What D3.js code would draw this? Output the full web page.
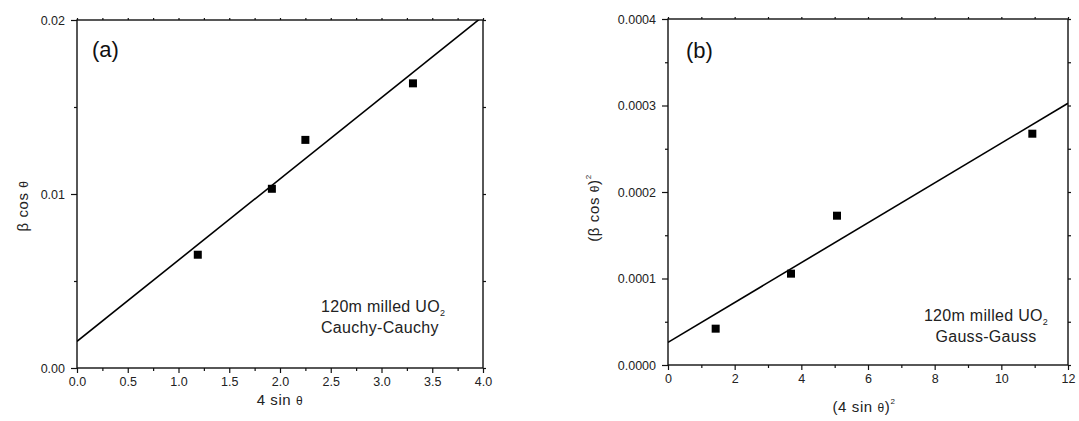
<!DOCTYPE html>
<html>
<head>
<meta charset="utf-8">
<script src="https://cdn.jsdelivr.net/npm/d3@7"></script>
<style>
  html, body { margin: 0; padding: 0; background: #fff; }
  svg { display: block; font-family: "Liberation Sans", Arial, sans-serif; }
  .axis path, .axis line { stroke: #111; }
  .axis text { fill: #222; font-size: 12.5px; font-family: "Liberation Sans", Arial, sans-serif; }
</style>
</head>
<body>
<svg id="chart" width="1079" height="421"></svg>
<script>
// Williamson–Hall style plots for 120 min milled UO2

// (a) Cauchy-Cauchy: beta cos(theta) vs 4 sin(theta)
const xA = [1.19, 1.92, 2.25, 3.31];
const yA = [0.00651, 0.01030, 0.01311, 0.01636];
const fitA = [0.00153, 0.00467];          // intercept, slope
const xTicksA = [0, 0.5, 1, 1.5, 2, 2.5, 3, 3.5, 4];
const yTicksA = [0, 0.01, 0.02];

// (b) Gauss-Gauss: (beta cos(theta))^2 vs (4 sin(theta))^2
const xB = [1.43, 3.69, 5.07, 10.93];
const yB = [0.0000420, 0.0001056, 0.0001726, 0.0002674];
const fitB = [0.0000262, 0.00002303];     // intercept, slope
const xTicksB = [0, 2, 4, 6, 8, 10, 12];
const yTicksB = [0, 0.0001, 0.0002, 0.0003, 0.0004];

const svg = d3.select("#chart");
svg.append("rect").attr("width", 1079).attr("height", 421).attr("fill", "#fff");

function panel(cfg) {
  const x = d3.scaleLinear().domain(cfg.xDomain).range([cfg.left, cfg.right]);
  const y = d3.scaleLinear().domain(cfg.yDomain).range([cfg.bottom, cfg.top]);
  const g = svg.append("g");

  const minorX = d3.range(cfg.xDomain[0], cfg.xDomain[1] + 1e-9, cfg.xMinor)
    .filter(v => !cfg.xTicks.some(t => Math.abs(t - v) < 1e-9));
  const minorY = d3.range(cfg.yDomain[0], cfg.yDomain[1] + 1e-12, cfg.yMinor)
    .filter(v => !cfg.yTicks.some(t => Math.abs(t - v) < 1e-12));

  // minor ticks on all four sides
  g.append("g").attr("class", "axis").attr("transform", `translate(0,${cfg.bottom})`)
    .call(d3.axisBottom(x).tickValues(minorX).tickSize(3).tickFormat(""))
    .call(a => a.select(".domain").remove());
  g.append("g").attr("class", "axis").attr("transform", `translate(${cfg.left},0)`)
    .call(d3.axisLeft(y).tickValues(minorY).tickSize(3).tickFormat(""))
    .call(a => a.select(".domain").remove());
  g.append("g").attr("class", "axis").attr("transform", `translate(0,${cfg.top})`)
    .call(d3.axisTop(x).tickValues(minorX.concat(cfg.xTicks)).tickSize(2).tickFormat(""))
    .call(a => a.select(".domain").remove());
  g.append("g").attr("class", "axis").attr("transform", `translate(${cfg.right},0)`)
    .call(d3.axisRight(y).tickValues(minorY.concat(cfg.yTicks)).tickSize(3).tickFormat(""))
    .call(a => a.select(".domain").remove());

  // major ticks with labels
  g.append("g").attr("class", "axis").attr("transform", `translate(0,${cfg.bottom})`)
    .call(d3.axisBottom(x).tickValues(cfg.xTicks).tickSize(5).tickPadding(4).tickFormat(cfg.xFormat))
    .call(a => a.select(".domain").remove());
  g.append("g").attr("class", "axis").attr("transform", `translate(${cfg.left},0)`)
    .call(d3.axisLeft(y).tickValues(cfg.yTicks).tickSize(6).tickPadding(6).tickFormat(cfg.yFormat))
    .call(a => a.select(".domain").remove());
  g.selectAll(".axis line").attr("stroke", "#111").attr("stroke-width", 1.2);

  // frame
  g.append("rect")
    .attr("x", cfg.left).attr("y", cfg.top)
    .attr("width", cfg.right - cfg.left).attr("height", cfg.bottom - cfg.top)
    .attr("fill", "none").attr("stroke", "#111").attr("stroke-width", 1.4);

  // linear fit, clipped to the plot frame
  const clipId = "clip-" + cfg.name;
  svg.append("clipPath").attr("id", clipId).append("rect")
    .attr("x", cfg.left).attr("y", cfg.top)
    .attr("width", cfg.right - cfg.left).attr("height", cfg.bottom - cfg.top);
  const fx = cfg.xDomain;
  const fitPts = fx.map(v => [v, cfg.fit[0] + cfg.fit[1] * v]);
  g.append("path")
    .attr("clip-path", `url(#${clipId})`)
    .attr("d", d3.line().x(d => x(d[0])).y(d => y(d[1]))(fitPts))
    .attr("fill", "none").attr("stroke", "#000").attr("stroke-width", 1.6);

  // data points (square markers)
  const s = 8;
  g.selectAll("rect.pt").data(cfg.xs.map((v, i) => [v, cfg.ys[i]])).join("rect")
    .attr("class", "pt")
    .attr("x", d => x(d[0]) - s / 2).attr("y", d => y(d[1]) - s / 2)
    .attr("width", s).attr("height", s).attr("fill", "#000");

  // panel letter
  g.append("text").attr("x", cfg.letterPos[0]).attr("y", cfg.letterPos[1])
    .attr("font-size", 22).attr("fill", "#111").text(cfg.letter);

  return { g, x, y };
}

const A = panel({
  name: "a", left: 77, right: 483, top: 20, bottom: 368,
  xDomain: [0, 4], yDomain: [0, 0.02], xMinor: 0.25, yMinor: 0.005,
  xTicks: xTicksA, yTicks: yTicksA,
  xFormat: d3.format(".1f"), yFormat: d3.format(".2f"),
  xs: xA, ys: yA, fit: fitA, letter: "(a)", letterPos: [92, 57]
});

const B = panel({
  name: "b", left: 668, right: 1068, top: 19, bottom: 365,
  xDomain: [0, 12], yDomain: [0, 0.0004], xMinor: 1, yMinor: 0.00005,
  xTicks: xTicksB, yTicks: yTicksB,
  xFormat: d3.format("d"), yFormat: d3.format(".4f"),
  xs: xB, ys: yB, fit: fitB, letter: "(b)", letterPos: [686, 58]
});

// axis titles
const tcol = "#222";
// (a) x
const xtA = svg.append("text").attr("x", 280).attr("y", 405).attr("text-anchor", "middle")
  .attr("font-size", 15).attr("letter-spacing", 0.6).attr("fill", tcol);
xtA.append("tspan").text("4 sin ");
xtA.append("tspan").attr("font-size", 12).text("θ");
// (a) y
const ytA = svg.append("text").attr("transform", "translate(28,206) rotate(-90)")
  .attr("text-anchor", "middle").attr("font-size", 15).attr("letter-spacing", 0.6).attr("fill", tcol);
ytA.append("tspan").text("β cos ");
ytA.append("tspan").attr("font-size", 12).text("θ");
// (b) x
const xtB = svg.append("text").attr("x", 864).attr("y", 412).attr("text-anchor", "middle")
  .attr("font-size", 15).attr("letter-spacing", 0.6).attr("fill", tcol);
xtB.append("tspan").text("(4 sin ");
xtB.append("tspan").attr("font-size", 12).text("θ");
xtB.append("tspan").text(")");
xtB.append("tspan").attr("font-size", 8).attr("dy", -8).text("2");
// (b) y
const ytB = svg.append("text").attr("transform", "translate(599,208) rotate(-90)")
  .attr("text-anchor", "middle").attr("font-size", 15).attr("letter-spacing", 0.6).attr("fill", tcol);
ytB.append("tspan").text("(β cos ");
ytB.append("tspan").attr("font-size", 12).text("θ");
ytB.append("tspan").text(")");
ytB.append("tspan").attr("font-size", 8).attr("dy", -8).text("2");

// annotations
function note(xp, y1, y2, anchor, second) {
  const t1 = svg.append("text").attr("x", xp).attr("y", y1).attr("text-anchor", anchor)
    .attr("font-size", 16).attr("letter-spacing", 0.3).attr("fill", tcol);
  t1.append("tspan").text("120m milled UO");
  t1.append("tspan").attr("font-size", 9).attr("dy", 4).text("2");
  svg.append("text").attr("x", xp).attr("y", y2).attr("text-anchor", anchor)
    .attr("font-size", 16).attr("letter-spacing", 0.3).attr("fill", tcol).text(second);
}
note(321, 312, 333, "start", "Cauchy-Cauchy");
note(986, 321, 342, "middle", "Gauss-Gauss");
</script>
</body>
</html>
